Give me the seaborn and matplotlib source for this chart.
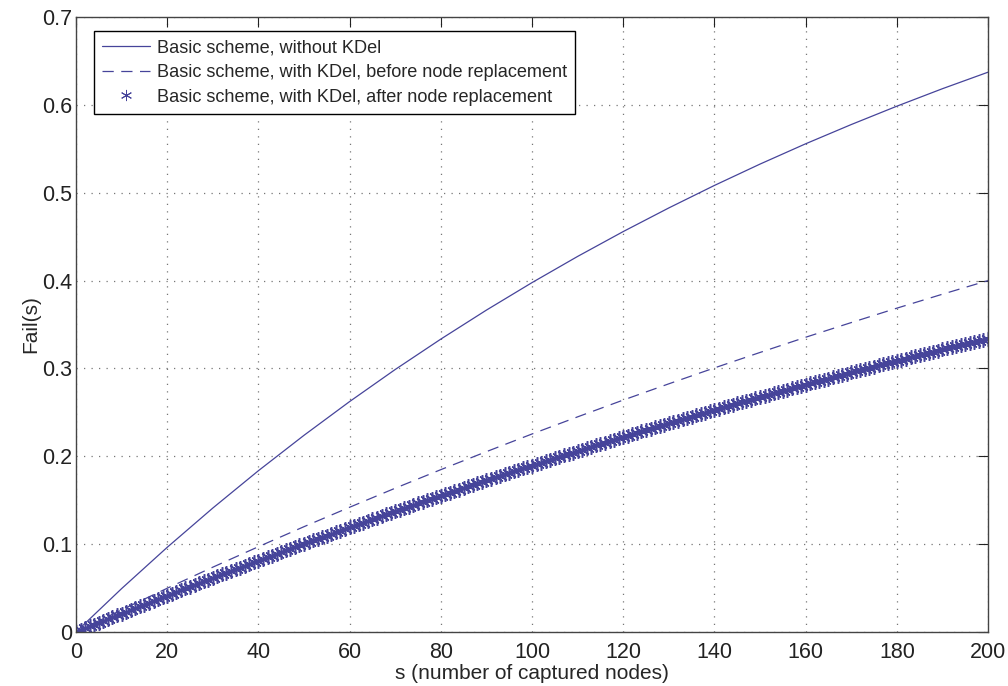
import seaborn as sns
import matplotlib
matplotlib.use("Agg")
import matplotlib.pyplot as plt
import pandas as pd

## data
grid_s = list(range(0, 201, 10))
fail_no_kdel = [0, 0.0494, 0.0964, 0.1411, 0.1836, 0.2239, 0.2623, 0.2988, 0.3334, 0.3664,
                0.3977, 0.4275, 0.4558, 0.4827, 0.5083, 0.5326, 0.5557, 0.5776, 0.5985, 0.6184, 0.6372]
fail_kdel_before = [0, 0.0252, 0.0498, 0.0738, 0.0971, 0.1199, 0.1420, 0.1637, 0.1848, 0.2053,
                    0.2254, 0.2449, 0.2640, 0.2825, 0.3006, 0.3182, 0.3355, 0.3522, 0.3686, 0.3845, 0.4000]

star_s = list(range(0, 201))
fail_kdel_after = [
    0, 0.0021, 0.0042, 0.0063, 0.0084, 0.0105, 0.0126, 0.0147, 0.0168, 0.0189,
    0.0210, 0.0230, 0.0251, 0.0272, 0.0292, 0.0313, 0.0333, 0.0354, 0.0374, 0.0395,
    0.0415, 0.0435, 0.0456, 0.0476, 0.0496, 0.0516, 0.0536, 0.0556, 0.0576, 0.0596,
    0.0616, 0.0636, 0.0655, 0.0675, 0.0695, 0.0714, 0.0734, 0.0754, 0.0773, 0.0793,
    0.0812, 0.0831, 0.0851, 0.0870, 0.0889, 0.0908, 0.0928, 0.0947, 0.0966, 0.0985,
    0.1004, 0.1023, 0.1042, 0.1060, 0.1079, 0.1098, 0.1117, 0.1135, 0.1154, 0.1172,
    0.1191, 0.1209, 0.1228, 0.1246, 0.1265, 0.1283, 0.1301, 0.1319, 0.1338, 0.1356,
    0.1374, 0.1392, 0.1410, 0.1428, 0.1446, 0.1463, 0.1481, 0.1499, 0.1517, 0.1534,
    0.1552, 0.1570, 0.1587, 0.1605, 0.1622, 0.1639, 0.1657, 0.1674, 0.1691, 0.1709,
    0.1726, 0.1743, 0.1760, 0.1777, 0.1794, 0.1811, 0.1828, 0.1845, 0.1862, 0.1878,
    0.1895, 0.1912, 0.1928, 0.1945, 0.1961, 0.1978, 0.1994, 0.2011, 0.2027, 0.2043,
    0.2060, 0.2076, 0.2092, 0.2108, 0.2124, 0.2140, 0.2156, 0.2172, 0.2188, 0.2204,
    0.2220, 0.2236, 0.2252, 0.2267, 0.2283, 0.2298, 0.2314, 0.2330, 0.2345, 0.2360,
    0.2376, 0.2391, 0.2406, 0.2422, 0.2437, 0.2452, 0.2467, 0.2482, 0.2497, 0.2512,
    0.2527, 0.2542, 0.2557, 0.2572, 0.2586, 0.2601, 0.2616, 0.2630, 0.2645, 0.2659,
    0.2674, 0.2688, 0.2703, 0.2717, 0.2731, 0.2745, 0.2760, 0.2774, 0.2788, 0.2802,
    0.2816, 0.2830, 0.2844, 0.2858, 0.2872, 0.2885, 0.2899, 0.2913, 0.2927, 0.2940,
    0.2954, 0.2967, 0.2981, 0.2994, 0.3008, 0.3021, 0.3034, 0.3048, 0.3061, 0.3074,
    0.3087, 0.3100, 0.3113, 0.3126, 0.3139, 0.3152, 0.3165, 0.3178, 0.3190, 0.3203,
    0.3216, 0.3228, 0.3241, 0.3254, 0.3266, 0.3278, 0.3291, 0.3303, 0.3316, 0.3328,
    0.3340,
]

x_ticks = list(range(0, 201, 20))
y_ticks = [0, 0.1, 0.2, 0.3, 0.4, 0.5, 0.6, 0.7]
y_tick_labels = ['0', '0.1', '0.2', '0.3', '0.4', '0.5', '0.6', '0.7']

labels = ['Basic scheme, without KDel',
          'Basic scheme, with KDel, before node replacement',
          'Basic scheme, with KDel, after node replacement']

line_df = pd.DataFrame({'s': grid_s, 'no_kdel': fail_no_kdel, 'before': fail_kdel_before})
star_df = pd.DataFrame({'s': star_s, 'after': fail_kdel_after})

## style
sns.set_style("white")
plt.rcParams['font.family'] = ['Liberation Sans', 'DejaVu Sans']
color = '#46449a'

fig = plt.figure(figsize=(10.08, 6.86), dpi=100)
ax = fig.add_axes([0.0754, 0.0787, 0.9048, 0.8965])

sns.lineplot(data=line_df, x='s', y='no_kdel', ax=ax, color=color, linewidth=0.9,
             label=labels[0])
sns.lineplot(data=line_df, x='s', y='before', ax=ax, color=color, linewidth=0.9,
             linestyle=(0, (9, 6)), label=labels[1])
sns.lineplot(data=star_df, x='s', y='after', ax=ax, color=color, linestyle='none',
             marker=(6, 2, 0), markersize=10.5, markeredgewidth=1.1,
             markeredgecolor=color, label=labels[2])

ax.set_xlim(0, 200)
ax.set_ylim(0, 0.7)
ax.set_xticks(x_ticks)
ax.set_yticks(y_ticks)
ax.set_yticklabels(y_tick_labels)
ax.tick_params(direction='in', length=7, width=0.8, top=True, right=True,
               labelsize=15.5, colors='#222222')
ax.tick_params(axis='y', pad=3)
ax.tick_params(axis='x', pad=7)
ax.grid(True, color='#777777', linestyle=(0, (1, 5)), linewidth=0.9)
for sp in ax.spines.values():
    sp.set_color('#444444')
    sp.set_linewidth(1.0)

ax.set_xlabel('s (number of captured nodes)', fontsize=15, labelpad=1)
ax.set_ylabel('Fail(s)', fontsize=15, labelpad=1)

leg = ax.legend(loc='upper left', bbox_to_anchor=(0.0197, 0.977), borderaxespad=0,
                fontsize=13.1, frameon=True, fancybox=False, handlelength=2.65,
                handletextpad=0.35, labelspacing=0.42, borderpad=0.45)
leg.get_frame().set_edgecolor('black')
leg.get_frame().set_linewidth(1.0)
leg.get_frame().set_alpha(1)
leg.legend_handles[2].set_markersize(8)
leg.legend_handles[2].set_markeredgewidth(0.7)

plt.savefig('out.png', dpi=100)
